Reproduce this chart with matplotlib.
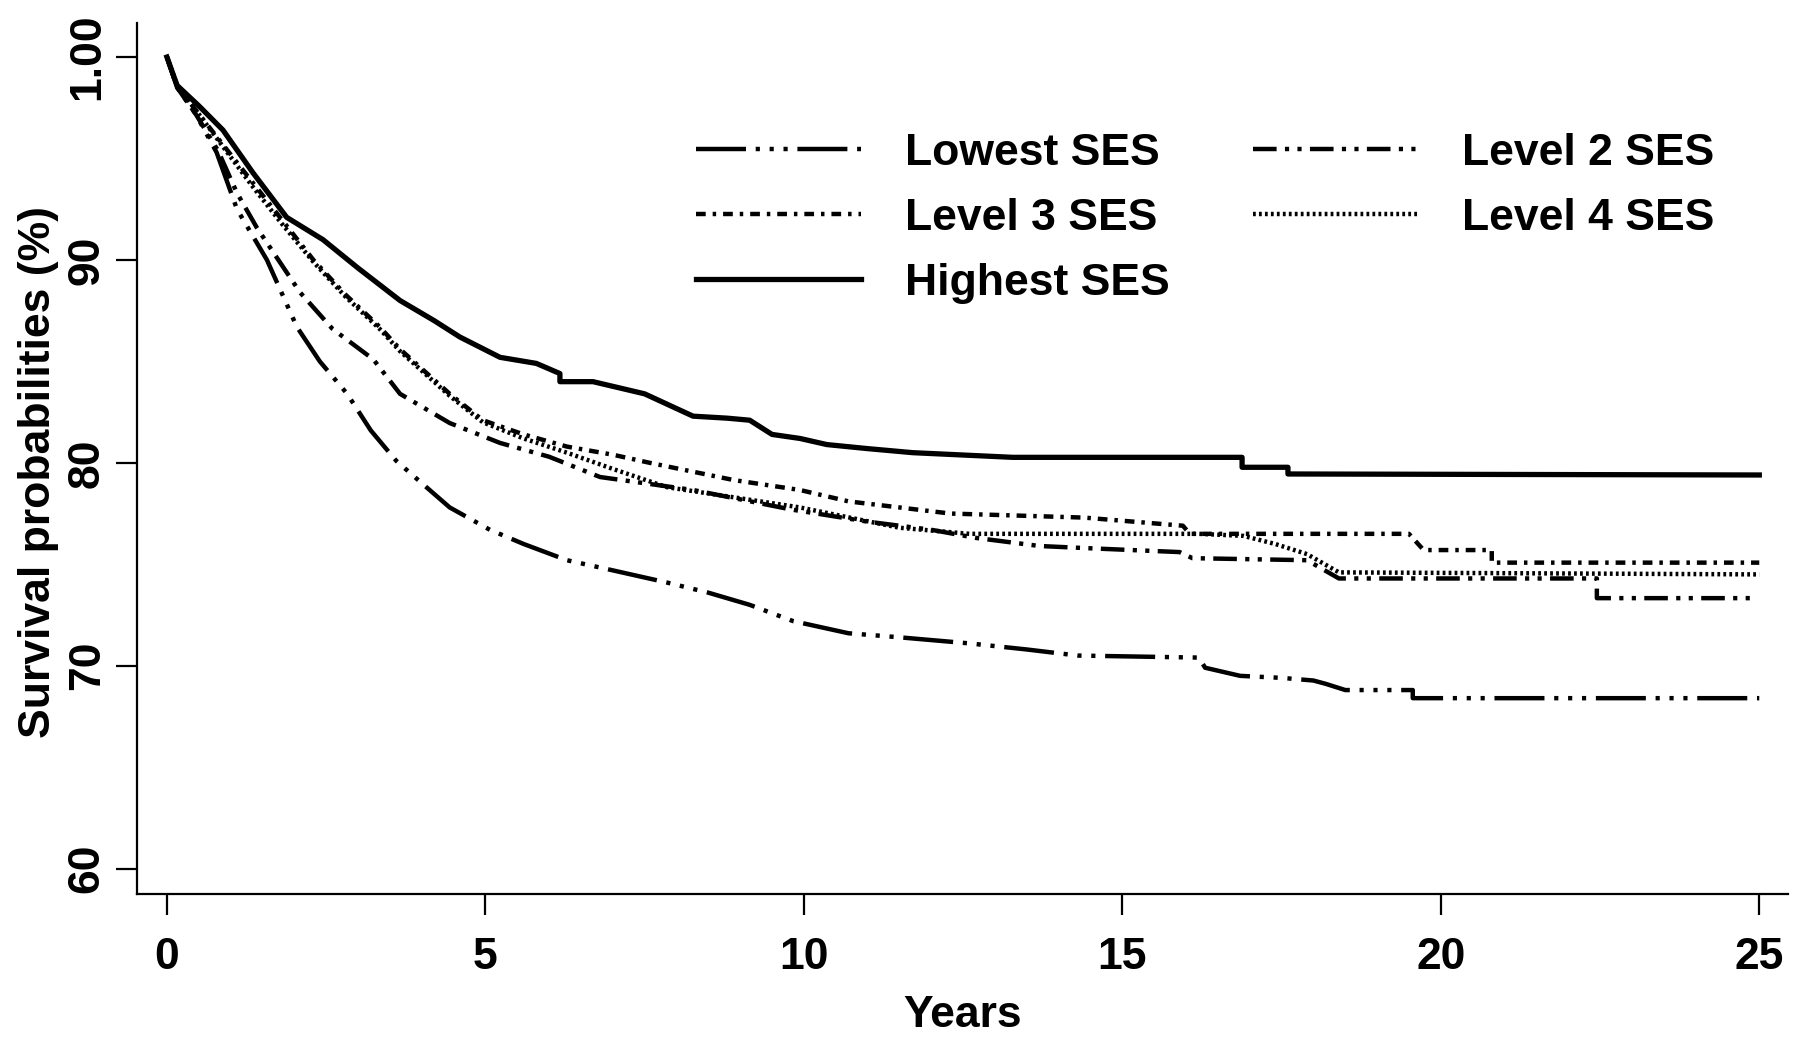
#!/usr/bin/env python3
"""
Kaplan-Meier style survival curves by socio-economic status (SES)
"""

import matplotlib
matplotlib.use('Agg')
import matplotlib.pyplot as plt

# Survival probabilities (%), per SES group
# (repeated times mark the vertical drops of the step curves)
lowest_t = [0, 0.16, 0.45, 0.78, 1.1, 1.57, 2.04, 2.4, 2.83, 3.2, 3.6, 4.0, 4.44, 5.07, 5.6,
            6.28, 7.0, 7.85, 8.5, 9.15, 9.83, 10.7, 11.5, 12.6, 13.5, 14.3, 16.2, 16.3, 16.85,
            17.5, 18.0, 18.2, 18.5, 19.56, 19.56, 25.0]
lowest_s = [100, 98.5, 97.2, 95.3, 92.5, 90.0, 86.7, 85.0, 83.4, 81.6, 80.1, 79.0, 77.8, 76.7, 76.0,
            75.2, 74.7, 74.1, 73.6, 73.0, 72.2, 71.6, 71.4, 71.1, 70.8, 70.5, 70.4, 69.9, 69.5,
            69.4, 69.27, 69.1, 68.8, 68.8, 68.4, 68.4]

level2_t = [0, 0.16, 0.45, 0.8, 1.1, 1.41, 1.75, 2.09, 2.6, 3.24, 3.66, 4.44, 5.23, 6.0, 6.8,
            8.26, 9.0, 9.8, 11.0, 12.0, 12.7, 13.7, 14.4, 15.9, 16.1, 17.9, 18.4, 22.45, 22.45, 24.9]
level2_s = [100, 98.5, 97.2, 95.4, 93.3, 91.6, 90.0, 88.4, 86.6, 85.1, 83.4, 81.96, 80.98, 80.3, 79.3,
            78.66, 78.2, 77.7, 77.1, 76.7, 76.3, 75.9, 75.8, 75.6, 75.3, 75.2, 74.3, 74.3, 73.33, 73.33]

level3_t = [0, 0.16, 0.45, 0.9, 1.35, 1.8, 2.3, 2.8, 3.34, 3.66, 4.44, 4.96, 5.6, 6.28, 7.0,
            7.58, 8.9, 9.94, 10.7, 12.3, 14.4, 15.95, 16.06, 19.5, 19.73, 20.8, 20.8, 25.0]
level3_s = [100, 98.6, 97.4, 95.6, 93.8, 92.0, 90.0, 88.3, 86.7, 85.6, 83.4, 82.1, 81.4, 80.8, 80.4,
            80.0, 79.15, 78.66, 78.1, 77.5, 77.3, 76.9, 76.5, 76.5, 75.7, 75.7, 75.08, 75.08]

level4_t = [0, 0.16, 0.45, 0.9, 1.35, 1.8, 2.3, 2.8, 3.34, 3.66, 4.44, 4.96, 5.6, 6.28, 7.0,
            7.85, 8.9, 9.94, 11.5, 12.6, 16.2, 16.9, 17.4, 17.9, 18.4, 25.0]
level4_s = [100, 98.6, 97.4, 95.5, 93.6, 91.8, 89.9, 88.2, 86.6, 85.5, 83.3, 82.0, 81.2, 80.5, 79.7,
            78.8, 78.3, 77.8, 76.8, 76.5, 76.5, 76.4, 76.0, 75.5, 74.6, 74.5]

highest_t = [0, 0.16, 0.5, 0.88, 1.35, 1.88, 2.45, 3.0, 3.66, 4.2, 4.6, 5.23, 5.8, 6.17, 6.17,
             6.69, 7.5, 8.26, 8.8, 9.15, 9.5, 9.94, 10.36, 11.0, 11.71, 13.28, 16.88, 16.88,
             17.6, 17.6, 25.0]
highest_s = [100, 98.6, 97.6, 96.4, 94.3, 92.1, 91.0, 89.6, 88.0, 87.0, 86.2, 85.2, 84.9, 84.4, 84.0,
             84.0, 83.4, 82.3, 82.2, 82.1, 81.4, 81.2, 80.9, 80.7, 80.5, 80.27, 80.27, 79.78,
             79.78, 79.45, 79.4]

x_ticks = [0, 5, 10, 15, 20, 25]
y_ticks = [60, 70, 80, 90, 100]
y_tick_labels = ['60', '70', '80', '90', '1.00']


def generate_survival_chart():
    plt.rcParams['font.family'] = ['Liberation Sans', 'DejaVu Sans']
    plt.rcParams['font.weight'] = 'bold'
    plt.rcParams['axes.labelweight'] = 'bold'
    plt.rcParams['lines.scale_dashes'] = False

    fig = plt.figure(figsize=(18, 10.39), dpi=100)
    ax = fig.add_axes([0.0761, 0.1396, 0.9172, 0.8383])

    lw = 3.2
    # dash patterns in points
    ax.plot(lowest_t, lowest_s, color='black', lw=lw, label='Lowest SES',
            dashes=(36, 7, 3, 7, 3, 7, 3, 7))
    ax.plot(level2_t, level2_s, color='black', lw=lw, label='Level 2 SES',
            dashes=(17, 6, 3, 6, 3, 6))
    ax.plot(level3_t, level3_s, color='black', lw=lw, label='Level 3 SES',
            dashes=(7, 5, 2.5, 5))
    ax.plot(level4_t, level4_s, color='black', lw=lw, label='Level 4 SES',
            dashes=(2, 2.3))
    ax.plot(highest_t, highest_s, color='black', lw=lw + 0.6, label='Highest SES')

    ax.set_xlim(-0.47, 25.45)
    ax.set_ylim(58.75, 101.68)

    ax.spines['top'].set_visible(False)
    ax.spines['right'].set_visible(False)
    ax.spines['left'].set_linewidth(1.6)
    ax.spines['bottom'].set_linewidth(1.6)

    ax.set_xticks(x_ticks)
    ax.set_yticks(y_ticks)
    ax.set_yticklabels(y_tick_labels, rotation=90, va='center')
    ax.tick_params(axis='both', labelsize=32, length=15, width=1.6)
    ax.tick_params(axis='x', pad=16)
    ax.tick_params(axis='y', pad=6)

    ax.set_xlabel('Years', fontsize=32)
    ax.set_ylabel('Survival probabilities (%)', fontsize=32)
    ax.xaxis.set_label_coords(0.5, -0.116)
    ax.yaxis.set_label_coords(-0.047, 0.485)

    # legend: two columns, filled column-wise
    h = {l.get_label(): l for l in ax.get_lines()}
    order = ['Lowest SES', 'Level 3 SES', 'Highest SES', 'Level 2 SES', 'Level 4 SES']
    ax.legend([h[k] for k in order], order, ncol=2, frameon=False,
              loc='upper left', bbox_to_anchor=(0.3867, 0.872),
              bbox_transform=fig.transFigure, fontsize=32,
              handlelength=3.7, handletextpad=1.0, columnspacing=1.88,
              labelspacing=0.54, borderpad=0, borderaxespad=0)

    fig.savefig('out.png', dpi=100)
    plt.close(fig)


if __name__ == "__main__":
    generate_survival_chart()
